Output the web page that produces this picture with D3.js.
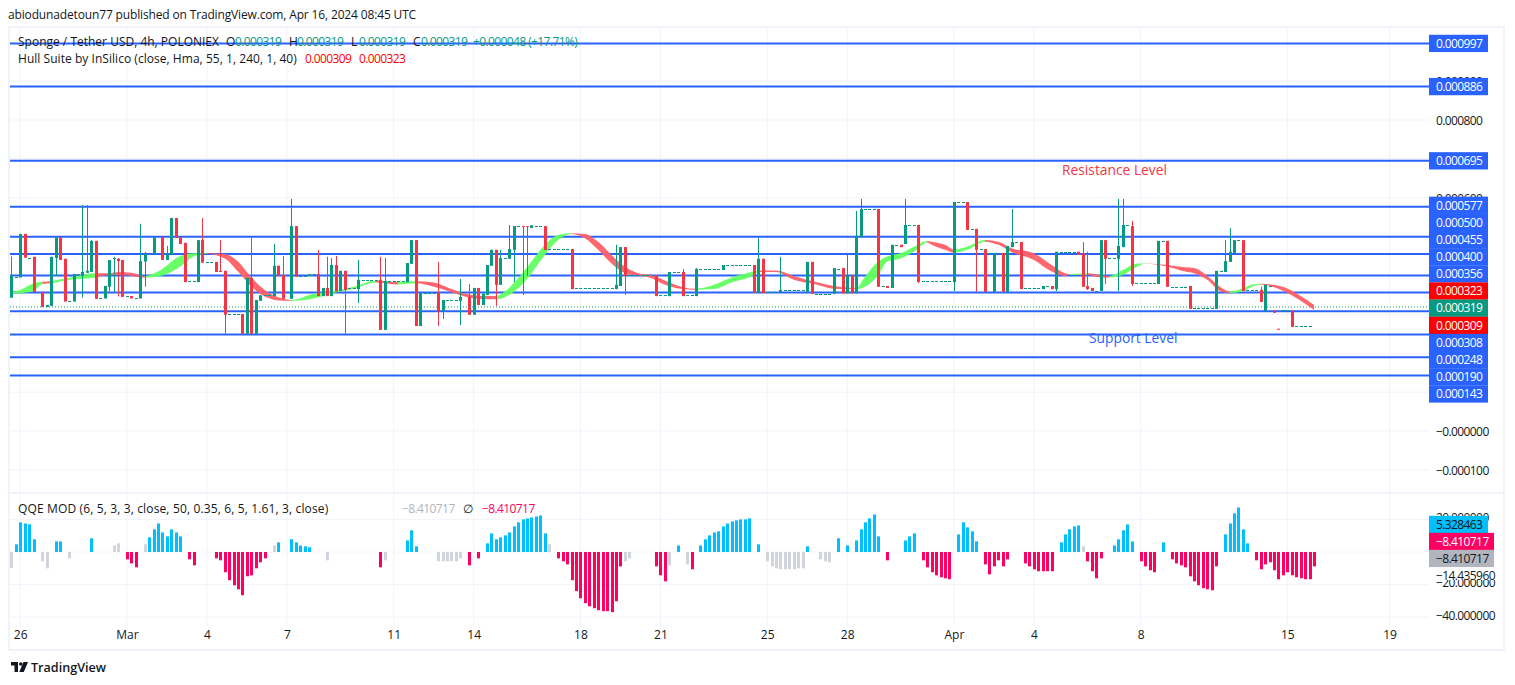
<!DOCTYPE html>
<html><head><meta charset="utf-8">
<script src="https://cdn.jsdelivr.net/npm/d3@7"></script>
<style>
html,body{margin:0;padding:0;background:#fff;overflow:hidden}
svg{display:block}
text{font-family:"Open Sans","Noto Sans",sans-serif;font-size:12px;fill:#131722}
</style></head><body><svg id="c" width="1515" height="685"></svg>
<script>
// prices are in millionths of USD
const levels=[997,886,695,577,500,455,400,356,308,248,190,143];
const priceTicks=[900,800,600,0,-100];
const priceTickLabels=["0.000900","0.000800","0.000600","\u22120.000000","\u22120.000100"];
const gridPrices=[900,800,700,600,500,400,300,200,100,0,-100];
const timeTickIdx=[2,26,44,62,86,104,128,146,170,188,212,230,254,287,310];
const timeTickLabels=["26","Mar","4","7","11","14","18","21","25","28","Apr","4","8","15","19"];

const candleIdx=[0,2,3,5,7,8,9,10,11,12,14,16,17,18,19,21,22,23,24,25,27,29,30,32,34,35,36,37,38,39,42,43,46,47,48,52,53,54,55,56,59,60,61,63,64,67,69,70,71,72,73,74,75,78,83,84,89,90,91,92,96,97,101,103,104,105,106,107,108,109,110,112,113,115,116,117,120,126,136,137,138,145,148,151,154,160,167,168,169,173,179,180,185,187,188,189,190,191,195,197,198,200,201,204,212,215,217,219,221,223,224,225,227,232,234,235,240,241,242,243,245,246,249,250,252,258,260,265,271,273,274,275,277,281,282,284,285,288];
const candleOpen=[343,395,507,448,358,319,322,445,498,443,333,399,407,409,489,341,371,443,443,440,347,341,436,455,498,440,454,548,498,484,383,491,435,412,412,301,250,394,250,335,347,425,401,340,527,399,404,347,368,347,427,360,412,365,389,260,383,430,491,270,355,309,335,345,299,368,324,350,425,466,376,443,466,527,527,522,527,468,365,373,473,401,347,409,347,414,427,355,443,358,358,435,353,419,354,401,354,500,571,373,368,479,481,530,383,589,520,468,358,458,358,473,486,365,373,365,461,457,373,368,360,491,443,473,527,378,489,373,314,409,435,457,491,363,309,310,263,310];
const candleHigh=[449,507,507,448,358,324,448,498,498,443,404,581,581,491,489,373,440,448,445,440,347,533,461,498,498,476,548,548,498,484,491,548,435,491,412,301,394,497,337,349,481,425,450,597,527,403,466,368,448,445,450,412,412,440,448,445,432,491,491,355,435,337,391,378,368,368,353,427,466,466,466,530,527,527,527,529,527,468,479,473,473,401,409,417,419,427,427,497,443,448,435,435,419,419,453,401,566,597,571,373,479,479,597,530,589,589,520,468,458,458,476,571,486,373,373,461,461,486,461,368,491,491,597,597,540,489,489,373,412,491,522,491,491,371,376,310,263,310];
const candleLow=[343,395,446,358,319,319,322,399,440,333,333,343,407,409,340,341,359,358,346,345,341,341,371,455,440,440,454,497,481,383,383,433,409,409,250,250,250,250,250,335,347,399,340,340,397,399,347,347,347,347,359,360,250,329,260,260,383,430,270,270,270,288,273,299,299,324,324,350,425,322,376,443,383,350,399,522,466,365,365,373,350,347,347,347,347,414,355,355,355,358,358,353,353,354,354,354,354,500,371,368,368,473,481,381,360,517,358,358,358,358,358,473,365,365,365,360,453,371,363,360,360,378,360,473,373,378,371,314,314,409,435,457,360,332,309,304,261,268];
const candleClose=[399,507,446,358,319,324,448,498,440,333,404,409,412,489,340,373,440,445,437,345,341,437,455,498,440,455,548,497,481,383,491,433,409,409,299,250,394,250,337,349,425,399,340,527,397,403,347,368,347,427,359,412,363,389,260,386,432,491,270,355,307,337,345,299,368,324,353,427,466,376,445,468,527,525,525,529,466,365,376,473,399,347,409,347,417,427,355,443,355,363,435,353,419,354,401,354,502,571,371,368,479,473,530,383,589,517,466,358,458,358,476,486,365,373,365,461,453,371,365,360,491,443,476,530,378,489,371,314,412,437,461,491,360,332,376,304,261,268];

const dojiStart=[1,4,13,15,20,26,28,40,44,49,57,65,68,76,79,85,93,98,111,114,118,121,127,139,146,149,152,155,161,170,174,181,186,192,196,199,202,205,213,216,218,220,222,226,228,233,236,244,247,251,253,259,261,266,272,276,278,283,286,289];
const dojiEnd=[1,4,13,15,20,26,28,41,45,51,58,66,68,77,82,88,95,100,111,114,119,125,135,144,147,150,153,159,166,172,178,184,186,194,196,199,203,211,214,216,218,220,222,226,231,233,239,244,248,251,257,259,264,270,272,276,280,283,287,292];
const dojiPrice=[395,446,334,404,341,347,341,385,435,300,349,399,404,367,388,386,354,336,444,527,527,467,367,401,349,408,349,416,426,358,362,353,417,570,372,478,529,385,588,519,467,458,458,486,367,372,460,360,444,530,380,488,371,317,411,491,362,373,310,269];

const hullIdx=[0,2,5,7,9,12,19,22,24,27,30,33,38,41,44,48,51,54,57,61,63,68,72,77,82,87,91,95,98,102,107,109,111,114,117,120,123,126,129,132,135,138,141,144,147,151,154,158,162,167,168,172,176,181,185,188,190,192,195,197,200,203,206,207,210,212,215,219,222,225,230,234,237,238,242,245,247,250,253,255,260,264,266,269,272,274,277,279,281,286,290,293];
const hullUpper=[358,363,380,384,386,392,406,406,409,407,399,410,450,457,457,455,436,395,363,341,337,353,359,371,387,383,385,382,370,354,347,347,359,393,436,479,504,509,507,487,453,423,406,401,387,370,366,376,395,410,413,413,399,383,373,369,367,397,436,449,457,474,489,487,479,467,474,491,487,470,457,427,406,404,406,401,399,414,430,431,427,421,419,399,370,359,367,377,379,371,347,324];
const hullLower=[353,354,360,378,380,387,395,401,402,399,395,397,423,449,455,444,410,371,346,335,335,341,354,366,382,377,380,371,361,346,339,339,344,367,406,453,491,507,496,466,431,406,400,393,376,365,363,365,382,401,409,409,389,377,366,365,365,371,401,436,444,461,485,479,466,459,466,487,479,460,440,410,399,401,401,395,395,401,421,430,423,410,406,389,359,355,359,371,376,361,335,311];
const hullFlips=[0,7,9,19,30,44,63,82,87,91,109,126,154,168,190,206,212,219,238,242,247,255,274,281,293]; // colour alternates, first run rising

const qqeBlueIdx=[1,2,3,4,5,10,11,18,31,32,33,34,35,36,37,38,60,63,64,65,66,67,89,90,91,107,108,109,110,111,112,113,114,115,116,117,118,119,120,150,155,156,157,158,159,160,161,162,163,164,165,166,168,179,186,188,190,191,192,193,194,195,201,202,203,213,214,215,216,217,236,237,238,239,240,248,249,250,251,252,259,273,274,275,276,277,278];
const qqeBlueVal=[4.7,18.2,17.5,17,7.8,6.5,6.5,8.4,9,13.9,17.5,12,9.6,13.9,12,9.6,5.9,7.8,5.9,4,3.5,2.9,7.1,13.3,3.5,5.3,11.4,7.8,9,10.2,12,15.7,18.2,20,20.6,21.2,21.8,22.4,11.4,4,4,7.8,10.2,12,12.7,15.7,17.5,18.8,19.4,20,20,20.6,4.7,3.5,8.4,4,7.1,13.9,18.2,20.6,23,9.6,7.1,9.6,11.4,10.8,18.2,15.1,12.7,6.5,5.9,10.8,13.9,15.7,16.3,4,7.8,13.3,16.9,6.5,5.9,10.8,17.5,23.7,27.3,13.9,5.3];
const qqeRedIdx=[26,27,28,40,41,46,47,48,49,50,51,52,53,54,55,56,57,83,103,105,123,124,125,126,127,128,129,130,131,132,133,134,135,136,137,145,146,147,153,197,205,206,207,208,209,210,211,219,220,221,222,223,224,228,229,230,231,232,233,234,242,243,244,245,254,255,256,257,261,262,263,264,265,266,267,268,269,270,271,280,281,282,283,284,285,286,287,288,289,290,291,292,293];
const qqeRedVal=[-4.5,-7,-9.4,-4.5,-8.2,-3.9,-5.1,-12.4,-17.3,-20.4,-22.9,-26.5,-14.9,-14.3,-10,-6.3,-3.9,-9.4,-8.2,-3.9,-3.9,-5.7,-7.6,-17.3,-24,-28.4,-31.4,-33.3,-34.5,-35.7,-36.3,-36.3,-36.9,-30.2,-8.8,-8.8,-14.3,-18,-10.6,-5.1,-5.1,-9.4,-12.4,-14.3,-15.5,-16.1,-16.7,-7.6,-13.7,-8.8,-5.1,-8.8,-4.5,-7,-8.8,-10.6,-11.8,-11.8,-11.8,-11.8,-5.7,-11.8,-16.1,-3.9,-5.7,-8.8,-11.2,-12.4,-4.5,-7,-8.2,-9.4,-14.9,-18,-20.4,-22.2,-22.9,-23.5,-8.8,-5.1,-10.6,-7.6,-6.3,-11.2,-16.7,-14.3,-12.4,-14.3,-15.5,-16.1,-16.7,-16.7,-8.8];
const qqeGrayIdx=[0,7,8,13,23,24,30,59,71,84,96,97,98,99,100,101,121,138,139,148,152,170,171,172,173,174,175,176,177,178,182,183,184,241];
const qqeGrayVal=[-9.8,-5.7,-10,-3.9,4,5.3,4.7,4,-5.1,-5.1,-5.7,-5.7,-5.7,-5.7,-5.7,-3.9,4.7,-5.7,-3.9,-8.2,-7.6,-5.7,-8.8,-10,-10.6,-10.6,-10.6,-10.6,-10,-10,-4.5,-5.7,-6.3,3.5];
const qqeTicks=[20,0,-20,-40];
const qqeAxisTicks=[20,-20,-40];
const qqeAxisLabels=["20.000000","\u221220.000000","\u221240.000000"];

const W=1515,H=685,paneR=1429,NUM="-0.6px";
const BLUE="#2962ff",UP="#089981",DOWN="#f23645",GRID="#f0f3fa";
const x=d3.scaleLinear().domain([0,310]).range([11.3,1389.6]);
const y=d3.scaleLinear().domain([0,800]).range([431,120]);
const yQ=d3.scaleLinear().domain([0,-20]).range([552,584.6]);
const fmt=v=>(v/1e6).toFixed(6);
const svg=d3.select("#c");

// frame
svg.append("rect").attr("x",9).attr("y",27).attr("width",1495).attr("height",623).attr("fill","none").attr("stroke",GRID).attr("stroke-width",2);
svg.append("line").attr("x1",10).attr("x2",1504).attr("y1",493).attr("y2",493).attr("stroke",GRID).attr("stroke-width",2);

// grids
const grid=svg.append("g").attr("stroke",GRID).attr("stroke-width",1);
grid.selectAll(".v").data(timeTickIdx).join("line").attr("x1",d=>x(d)).attr("x2",d=>x(d)).attr("y1",28).attr("y2",626);
grid.selectAll(".h").data(gridPrices).join("line").attr("x1",10).attr("x2",paneR).attr("y1",d=>y(d)).attr("y2",d=>y(d));
grid.selectAll(".q").data(qqeTicks.filter(d=>d)).join("line").attr("x1",10).attr("x2",paneR).attr("y1",d=>yQ(d)).attr("y2",d=>yQ(d));

// axes
const tAxis=d3.axisBottom(x).tickValues(timeTickIdx).tickFormat((d,i)=>timeTickLabels[i]).tickSize(0);
const tg=svg.append("g").attr("transform","translate(0,630)").call(tAxis);
tg.select(".domain").remove();
tg.selectAll("text").attr("dy",0).attr("y",-1).attr("dominant-baseline","hanging").style("font-size","12px").attr("fill","#131722");
const pAxis=d3.axisRight(y).tickValues(priceTicks).tickFormat((d,i)=>priceTickLabels[i]).tickSize(0);
const pg=svg.append("g").attr("transform","translate(1436,0.5)").call(pAxis);
pg.select(".domain").remove();
pg.selectAll("text").attr("x",0).style("font-size","12px").style("letter-spacing",NUM);
const qAxis=d3.axisRight(yQ).tickValues(qqeAxisTicks).tickFormat((d,i)=>qqeAxisLabels[i]).tickSize(0);
const qg=svg.append("g").attr("transform","translate(1436,-1.5)").call(qAxis);
qg.select(".domain").remove();
qg.selectAll("text").attr("x",0).style("font-size","12px").style("letter-spacing",NUM);

// level lines
svg.append("g").selectAll("line").data(levels).join("line")
 .attr("x1",10).attr("x2",paneR).attr("y1",d=>y(d)).attr("y2",d=>y(d)).attr("stroke",BLUE).attr("stroke-width",2);
// last price dotted
svg.append("line").attr("x1",10).attr("x2",paneR).attr("y1",y(319)).attr("y2",y(319)).attr("stroke",UP).attr("stroke-width",1).attr("stroke-dasharray","1 2");

// hull ribbon
const hullData=hullIdx.map((d,i)=>({i:d,a:hullUpper[i],b:hullLower[i]}));
const area=d3.area().x(d=>x(d.i)).y0(d=>y(d.a)).y1(d=>y(d.b)).curve(d3.curveMonotoneX);
const defs=svg.append("defs");
d3.pairs(hullFlips).forEach(([a,b],k)=>{
  const id="cl"+k;
  defs.append("clipPath").attr("id",id).append("rect").attr("x",x(a)).attr("y",0).attr("width",x(b)-x(a)+0.3).attr("height",H);
  svg.append("path").datum(hullData).attr("d",area).attr("clip-path",`url(#${id})`)
    .attr("fill",k%2?"#ff5f66":"#60ff60").attr("fill-opacity",.95);
});

// candles
const cg=svg.append("g");
const cdata=candleIdx.map((d,i)=>({i:d,o:candleOpen[i],h:candleHigh[i],l:candleLow[i],c:candleClose[i]}));
const col=d=>d.c>=d.o?UP:DOWN;
cg.selectAll(".w").data(cdata).join("line").attr("x1",d=>Math.round(x(d.i))+.5).attr("x2",d=>Math.round(x(d.i))+.5)
  .attr("y1",d=>y(d.h)).attr("y2",d=>y(d.l)).attr("stroke",col).attr("stroke-width",1);
cg.selectAll(".b").data(cdata).join("rect").attr("x",d=>Math.round(x(d.i))-1).attr("width",3)
  .attr("y",d=>y(Math.max(d.o,d.c))).attr("height",d=>Math.max(1,Math.abs(y(d.o)-y(d.c)))).attr("fill",col);
const dojis=dojiStart.flatMap((s,k)=>d3.range(s,dojiEnd[k]+1).map(i=>({i,p:dojiPrice[k]})));
cg.selectAll(".d").data(dojis).join("rect").attr("x",d=>Math.round(x(d.i))-1).attr("width",3)
  .attr("y",d=>Math.round(y(d.p))).attr("height",1).attr("fill",UP);

// QQE histogram
svg.append("line").attr("x1",10).attr("x2",paneR).attr("y1",yQ(0)).attr("y2",yQ(0)).attr("stroke","#eceef2").attr("stroke-dasharray","2 2");
function hist(idx,val,color){
  svg.append("g").selectAll("rect").data(idx.map((d,i)=>({i:d,v:val[i]}))).join("rect")
   .attr("x",d=>Math.round(x(d.i))-1).attr("width",3)
   .attr("y",d=>Math.min(yQ(d.v),yQ(0))).attr("height",d=>Math.abs(yQ(d.v)-yQ(0))).attr("fill",color);
}
hist(qqeBlueIdx,qqeBlueVal,"#00bfff");
hist(qqeRedIdx,qqeRedVal,"#ff0062");
hist(qqeGrayIdx,qqeGrayVal,"#d1d4dc");

// annotations
svg.append("text").attr("x",1062).attr("y",175).text("Resistance Level").style("fill",DOWN).style("font-size","13.8px");
svg.append("text").attr("x",1089).attr("y",343).text("Support Level").style("fill",BLUE).style("font-size","13.8px");

// price tags
const tagH=17.3;
function tag(yc,txt,bg,fg,w){
  const g=svg.append("g");
  g.append("rect").attr("x",paneR).attr("y",yc-tagH/2).attr("width",w||59).attr("height",tagH).attr("fill",bg);
  g.append("text").attr("x",paneR+7).attr("y",yc+4.2).text(txt).style("fill",fg).style("font-size","12px").style("letter-spacing",NUM);
}
const stacked=[[577,BLUE],[500,BLUE],[455,BLUE],[400,BLUE],[356,BLUE],[323,"#ff0000"],[319,UP],[309,"#ff0000"],[308,BLUE],[248,BLUE],[190,BLUE],[143,BLUE]];
tag(y(997),fmt(997),BLUE,"#fff");
tag(y(886),fmt(886),BLUE,"#fff");
tag(y(695),fmt(695),BLUE,"#fff");
stacked.forEach(([p,c],k)=>tag(205.3+k*17.15,fmt(p),c,"#fff"));
tag(524.5,"5.328463","#00bfff","#131722");
tag(541.5,"\u22128.410717","#ff0062","#fff",65);
tag(558.5,"\u22128.410717","#b2b5be","#131722",65);
svg.append("rect").attr("x",1429).attr("y",567.5).attr("width",72).attr("height",12.5).attr("fill","#fff");
svg.append("text").attr("x",1436).attr("y",580).text("\u221214.435960").style("font-size","12px").style("letter-spacing",NUM);

// header and legends
svg.append("text").attr("x",8).attr("y",19).text("abiodunadetoun77 published on TradingView.com, Apr 16, 2024 08:45 UTC").style("letter-spacing","-0.15px");
const L=(x0,y0,t,c,ls)=>svg.append("text").attr("x",x0).attr("y",y0).text(t).style("fill",c||"#131722").style("letter-spacing",ls||"0");
L(18,46,"Sponge / Tether USD, 4h, POLONIEX");
L(226,46,"O");L(235,46,"0.000319",UP,NUM);
L(289,46,"H");L(297,46,"0.000319",UP,NUM);
L(351,46,"L");L(359,46,"0.000319",UP,NUM);
L(413,46,"C");L(421,46,"0.000319",UP,NUM);
L(473,46,"+0.000048 (+17.71%)",UP,NUM);
L(18,63,"Hull Suite by InSilico (close, Hma, 55, 1, 240, 1, 40)",null,"0.04px");
L(305,63,"0.000309","#ff0000",NUM);L(359,63,"0.000323","#ff0000",NUM);
L(18,513,"QQE MOD (6, 5, 3, 3, close, 50, 0.35, 6, 5, 1.61, 3, close)",null,"0.14px");
L(402,513,"\u22128.410717","#b2b5be",NUM);L(463,513,"\u2205");L(482,513,"\u22128.410717","#ff0062",NUM);

// logo
const logo=svg.append("g").attr("transform","translate(11,662)");
logo.append("path").attr("d","M0 0H7V10H3.5V3.5H0Z").attr("fill","#131722");
logo.append("circle").attr("cx",9.8).attr("cy",2).attr("r",1.8).attr("fill","#131722");
logo.append("path").attr("d","M12.5 0H17L12.8 10H8.3Z").attr("fill","#131722");
svg.append("text").attr("x",31).attr("y",672).text("TradingView").style("font-size","12.6px").style("font-weight","600");
</script></body></html>
